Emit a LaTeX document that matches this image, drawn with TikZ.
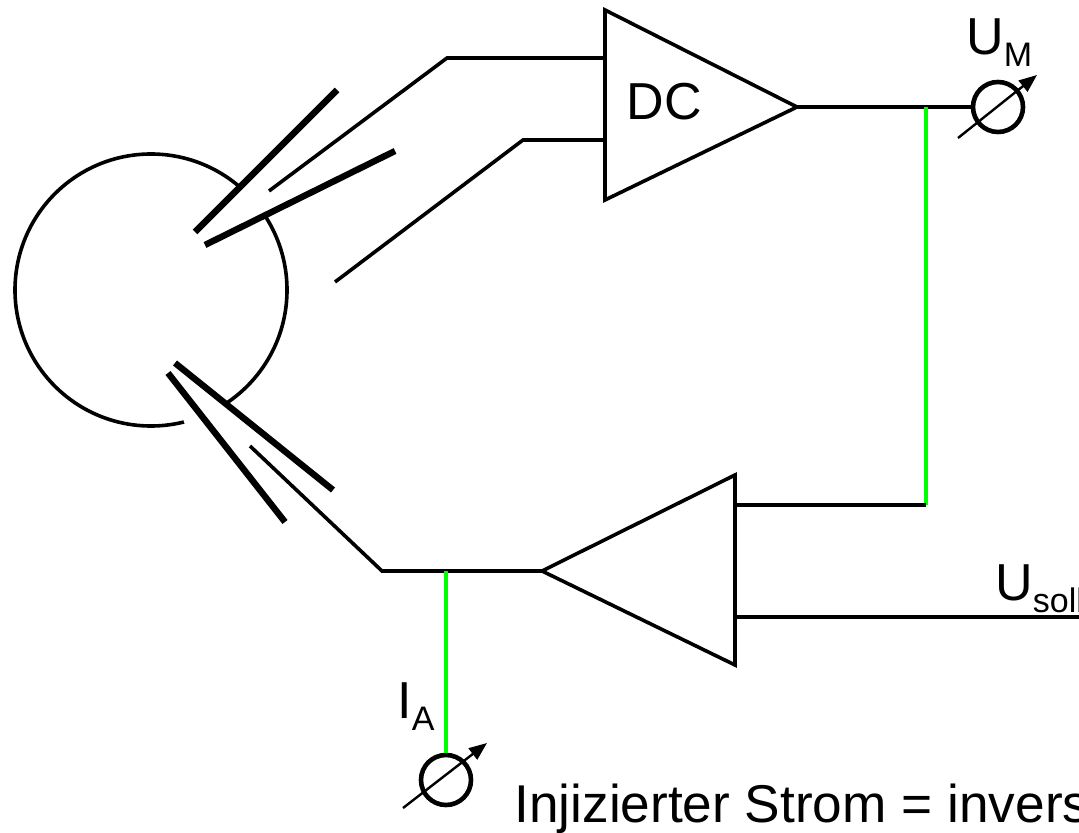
\documentclass[tikz,border=0pt]{standalone}
\usepackage{fontspec}
\setmainfont{Liberation Sans}
\usetikzlibrary{arrows.meta}
\newcommand{\lowidx}[1]{\raisebox{-6pt}{\fontsize{17}{17}\selectfont #1}}
\tikzset{
  wire/.style={line width=1.8pt},
  plate/.style={line width=3.2pt},
  feed/.style={line width=1.8pt,green},
  meter/.style={circle,draw,line width=2.3pt,minimum size=25pt,inner sep=0pt},
  tune/.style={line width=1.2pt,-{Triangle[length=9pt,width=7pt]}},
  big/.style={font=\fontsize{26}{30}\selectfont,inner sep=0pt}
}
\begin{document}
\begin{tikzpicture}[x=0.5pt,y=-0.5pt]
  \useasboundingbox (0,0) rectangle (1079,833);
  % ion source with extraction plates
  \draw[wire] (151,290) circle[radius=136];
  \fill[white] (195,232) -- (337,90) -- (395,151) -- (205,245) -- cycle;
  \fill[white] (175,363) -- (333,490) -- (285,522) -- (185,425) -- (168,373) -- cycle;
  \draw[plate] (195,232) -- (337,90);
  \draw[plate] (205,245) -- (395,151);
  \draw[plate] (175,363) -- (333,490);
  \draw[plate] (168,373) -- (285,522);

  % DC amplifier
  \coordinate (dcin1) at (605,58);
  \coordinate (dcin2) at (605,140);
  \coordinate (dcout) at (797,107);
  \draw[wire] (605,10) -- (dcout) -- (605,200) -- cycle;
  \node[big] (dc) at (664,102) {DC};
  \draw[wire] (269,191) -- (447,58) -- (dcin1);
  \draw[wire] (335,282) -- (523,140) -- (dcin2);

  % output meter
  \node[meter] (um) at (998,107) {};
  \coordinate (jtop) at (926,107);
  \draw[wire] (dcout) -- (um);
  \draw[tune] (958,138) -- (1037,75);
  \node[big,anchor=base west] (umlab) at (966,55) {U\lowidx{M}};

  % feedback amplifier
  \coordinate (rgout) at (542,571);
  \coordinate (rgin1) at (735,505);
  \coordinate (rgin2) at (735,617);
  \draw[wire] (735,475) -- (rgout) -- (735,665) -- cycle;
  \coordinate (jbot) at (926,505);
  \coordinate (soll) at (1079,617);
  \draw[feed] (jtop) -- (jbot);
  \draw[wire] (jbot) -- (rgin1);
  \draw[wire] (rgin2) -- (soll);
  \node[big,anchor=base west] (solllab) at (995,600) {U\lowidx{soll}};

  % injected current
  \coordinate (knee) at (382,571);
  \coordinate (jia) at (446,571);
  \draw[wire] (250,446) -- (knee) -- (rgout);
  \node[meter] (ia) at (446,780) {};
  \draw[feed] (jia) -- (ia);
  \draw[tune] (403,808) -- (487,743);
  \node[big,anchor=base west] (ialab) at (397,718) {I\lowidx{A}};
  \node[big,anchor=base west,font=\fontsize{26.6}{32}\selectfont] (note) at (514,822) {Injizierter Strom = invers};
\end{tikzpicture}
\end{document}
